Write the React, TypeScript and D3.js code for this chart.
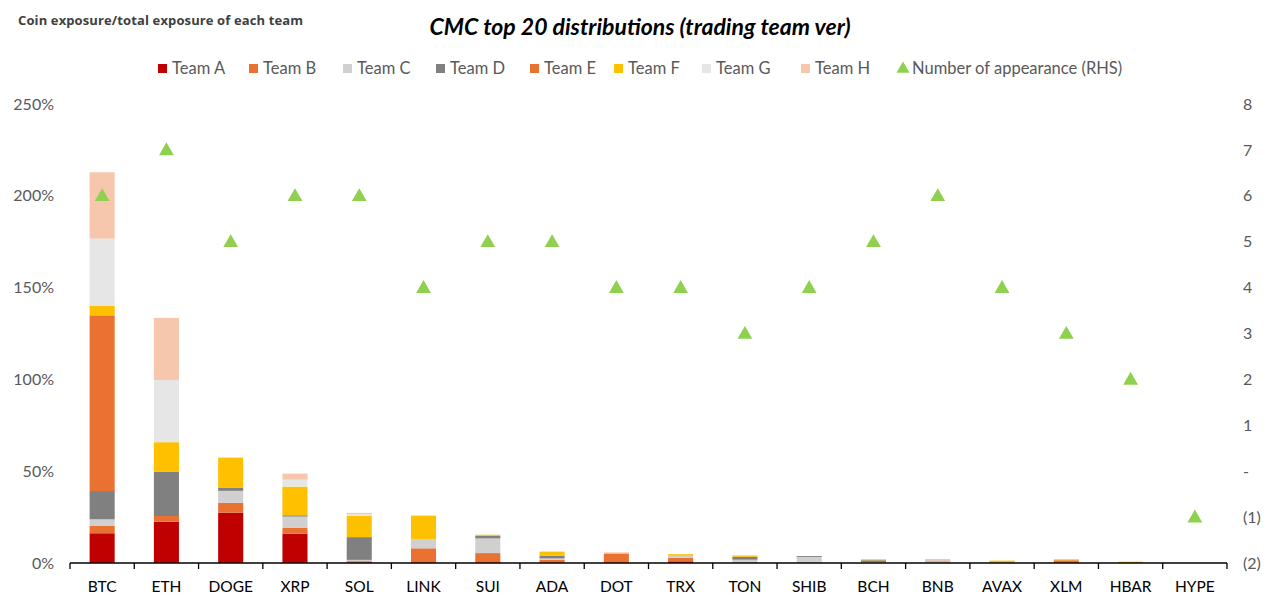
import React, { useRef, useEffect } from 'react';
import * as d3 from 'd3';

const coins = ['BTC', 'ETH', 'DOGE', 'XRP', 'SOL', 'LINK', 'SUI', 'ADA', 'DOT', 'TRX', 'TON', 'SHIB', 'BCH', 'BNB', 'AVAX', 'XLM', 'HBAR', 'HYPE'];
const teams = ['Team A', 'Team B', 'Team C', 'Team D', 'Team E', 'Team F', 'Team G', 'Team H'];
const teamColors = ['#C00000', '#E97132', '#D0D0D0', '#808080', '#E97132', '#FFC000', '#E7E6E6', '#F6C6AD'];

// exposure (%) per coin, one array per team
const teamA = [16.2, 22.5, 27.4, 16.0, 0, 0, 0, 0, 0, 0.9, 0, 0, 0, 0, 0, 0, 0, 0];
const teamB = [4.0, 3.1, 5.4, 3.1, 1.0, 8.0, 5.4, 1.8, 5.0, 2.0, 0, 0, 0, 0, 0, 1.5, 0, 0];
const teamC = [3.6, 0, 6.5, 6.2, 0.7, 5.1, 8.0, 0.7, 0, 1.0, 1.8, 3.3, 0.5, 0.9, 0, 0, 0, 0];
const teamD = [15.4, 24.0, 1.8, 0.7, 12.4, 0, 1.5, 1.5, 0, 0, 1.6, 0.5, 1.0, 0.4, 0.3, 0, 0, 0];
const teamE = [95.7, 0, 0, 0, 0, 0, 0, 0, 0, 0, 0, 0, 0, 0, 0, 0, 0, 0];
const teamF = [5.3, 16.2, 16.3, 15.6, 11.6, 12.7, 0.5, 2.2, 0.4, 0.9, 0.7, 0, 0.5, 0, 1.0, 0.5, 0.7, 0];
const teamG = [36.5, 33.9, 0, 3.8, 0.9, 0, 0, 0, 0, 0, 0, 0, 0, 0, 0, 0, 0, 0];
const teamH = [36.1, 33.8, 0, 3.3, 0.7, 0, 0, 0, 0.4, 0, 0, 0, 0, 0.9, 0, 0, 0, 0];
const appearances = [6, 7, 5, 6, 6, 4, 5, 5, 4, 4, 3, 4, 5, 6, 4, 3, 2, -1];

const leftTicks = [0, 50, 100, 150, 200, 250];
const rightTicks = [8, 7, 6, 5, 4, 3, 2, 1, 0, -1, -2];

const App: React.FC = () => {
  const svgRef = useRef<SVGSVGElement>(null);

  useEffect(() => {
    document.body.style.margin = '0';
    if (!svgRef.current) return;
    const svg = d3.select(svgRef.current);
    svg.selectAll('*').remove();

    const font = 'Lato, "Open Sans", sans-serif';
    const width = 1280;
    const x0 = 70, x1 = 1227, yTop = 104, yBase = 563;

    const x = d3.scaleBand<string>().domain(coins).range([x0, x1]).padding(0);
    const y = d3.scaleLinear().domain([0, 250]).range([yBase, yTop]);
    const yR = d3.scaleLinear().domain([-2, 8]).range([yBase, yTop]);
    const barW = x.step() * 0.39;

    const series = [teamA, teamB, teamC, teamD, teamE, teamF, teamG, teamH];
    const rows = coins.map((c, i) => {
      const r: any = { coin: c };
      teams.forEach((t, j) => (r[t] = series[j][i]));
      return r;
    });
    const stacked = d3.stack().keys(teams)(rows);

    // bars
    stacked.forEach((layer, j) => {
      svg.append('g')
        .selectAll('rect')
        .data(layer)
        .join('rect')
        .attr('x', (d: any) => (x(d.data.coin) as number) + (x.bandwidth() - barW) / 2)
        .attr('width', barW)
        .attr('y', d => y(d[1]))
        .attr('height', d => Math.max(0, y(d[0]) - y(d[1])))
        .attr('fill', teamColors[j]);
    });

    // x axis
    svg.append('line')
      .attr('x1', x0).attr('x2', x1)
      .attr('y1', yBase).attr('y2', yBase)
      .attr('stroke', '#000').attr('stroke-width', 1.3);
    const bounds = coins.map(c => x(c) as number).concat([x1]);
    svg.append('g')
      .selectAll('line')
      .data(bounds)
      .join('line')
      .attr('x1', d => d).attr('x2', d => d)
      .attr('y1', yBase).attr('y2', yBase + 6)
      .attr('stroke', '#000').attr('stroke-width', 1.3);
    svg.append('g')
      .selectAll('text')
      .data(coins)
      .join('text')
      .attr('x', d => (x(d) as number) + x.bandwidth() / 2)
      .attr('y', 592)
      .attr('text-anchor', 'middle')
      .attr('font-family', font)
      .attr('font-size', 15.5)
      .attr('fill', '#000')
      .text(d => d);

    // left axis labels
    svg.append('g')
      .selectAll('text')
      .data(leftTicks)
      .join('text')
      .attr('x', 54)
      .attr('y', d => y(d))
      .attr('dy', '0.35em')
      .attr('text-anchor', 'end')
      .attr('font-family', font)
      .attr('font-size', 16)
      .attr('fill', '#595959')
      .text(d => `${d}%`);

    // right axis labels
    svg.append('g')
      .selectAll('text')
      .data(rightTicks)
      .join('text')
      .attr('x', 1243)
      .attr('y', d => yR(d))
      .attr('dy', '0.35em')
      .attr('text-anchor', 'start')
      .attr('font-family', font)
      .attr('font-size', 16)
      .attr('fill', '#595959')
      .text(d => (d === 0 ? '-' : d < 0 ? `(${-d})` : `${d}`));

    // triangles
    const tri = d3.symbol().type(d3.symbolTriangle).size(95);
    svg.append('g')
      .selectAll('path')
      .data(appearances)
      .join('path')
      .attr('d', tri)
      .attr('transform', (d, i) => `translate(${(x(coins[i]) as number) + x.bandwidth() / 2},${yR(d) + 1})`)
      .attr('fill', '#8FD14F');

    // titles
    svg.append('text')
      .attr('x', 18).attr('y', 25)
      .attr('font-family', '"Open Sans", sans-serif')
      .attr('font-size', 13)
      .attr('font-weight', 'bold')
      .attr('fill', '#404040')
      .attr('textLength', 285)
      .text('Coin exposure/total exposure of each team');
    svg.append('text')
      .attr('x', width / 2).attr('y', 35)
      .attr('text-anchor', 'middle')
      .attr('font-family', font)
      .attr('font-size', 23)
      .attr('font-weight', 'bold')
      .attr('font-style', 'italic')
      .attr('fill', '#000')
      .text('CMC top 20 distributions (trading team ver)');

    // legend
    const legendItems = teams.map((t, i) => ({ label: t, color: teamColors[i], tri: false }))
      .concat([{ label: 'Number of appearance (RHS)', color: '#8FD14F', tri: true }]);
    const legendX = [158, 249, 343, 436, 530, 614, 702, 801, 898];
    const lg = svg.append('g');
    legendItems.forEach((item, i) => {
      const lx = legendX[i];
      const ly = 68;
      if (item.tri) {
        lg.append('path')
          .attr('d', d3.symbol().type(d3.symbolTriangle).size(75)())
          .attr('transform', `translate(${lx + 5},${ly + 1})`)
          .attr('fill', item.color);
      } else {
        lg.append('rect')
          .attr('x', lx).attr('y', ly - 4)
          .attr('width', 9).attr('height', 9)
          .attr('fill', item.color);
      }
      lg.append('text')
        .attr('x', lx + 14).attr('y', ly)
        .attr('dy', '0.35em')
        .attr('font-family', font)
        .attr('font-size', 16.5)
        .attr('fill', '#595959')
        .text(item.label);
    });
  }, []);

  return <svg ref={svgRef} width={1280} height={610} style={{ display: 'block', background: '#fff' }} />;
};

export default App;
